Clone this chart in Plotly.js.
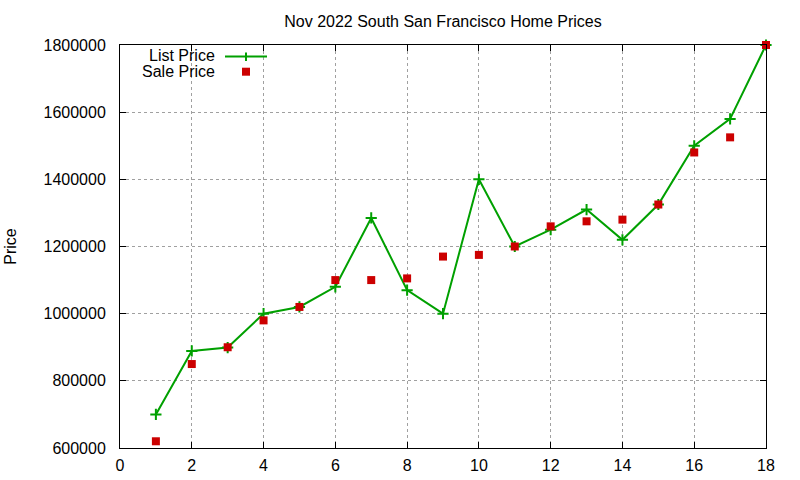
<!DOCTYPE html>
<html>
<head>
<meta charset="utf-8">
<script src="https://cdn.plot.ly/plotly-3.0.1.min.js"></script>
<style>
  html, body { margin: 0; padding: 0; background: #fff; }
  #chart { width: 800px; height: 480px; }
</style>
</head>
<body>
<div id="chart"></div>
<script>
// House index for the month (1..18)
const houseIndex = [1, 2, 3, 4, 5, 6, 7, 8, 9, 10, 11, 12, 13, 14, 15, 16, 17, 18];

// Prices
const listPrice = [700000, 889000, 899000, 1000000, 1020000, 1080000, 1285000, 1070000, 1000000,
                   1400000, 1200000, 1250000, 1310000, 1220000, 1325000, 1500000, 1580000, 1800000];
const salePrice = [620000, 850000, 900000, 980000, 1020000, 1100000, 1100000, 1105000, 1170000,
                   1175000, 1200000, 1260000, 1275000, 1280000, 1325000, 1480000, 1525000, 1800000];

const xTicks = [0, 2, 4, 6, 8, 10, 12, 14, 16, 18];
const yTicks = [600000, 800000, 1000000, 1200000, 1400000, 1600000, 1800000];

const GREEN = '#00a000';
const RED = '#cc0000';
const FONT = 'Liberation Sans, Arial, sans-serif';
const FS = 16;

// Plot area in pixels (used only to place the gnuplot-style key)
const plotL = 120, plotR = 766, plotT = 45, plotB = 448;
const px = (x) => (x - plotL) / (plotR - plotL);
const py = (y) => (plotB - y) / (plotB - plotT);

const listTrace = {
    x: houseIndex,
    y: listPrice,
    mode: 'lines+markers',
    type: 'scatter',
    name: 'List Price',
    line: { color: GREEN, width: 2 },
    marker: { symbol: 'cross-thin', size: 8, line: { color: GREEN, width: 2 } },
    cliponaxis: false
};

const saleTrace = {
    x: houseIndex,
    y: salePrice,
    mode: 'markers',
    type: 'scatter',
    name: 'Sale Price',
    marker: { symbol: 'square', size: 8, color: RED },
    cliponaxis: false
};

const axisCommon = {
    showline: true,
    linecolor: '#000',
    linewidth: 1,
    mirror: 'ticks',
    ticks: 'inside',
    ticklen: 6,
    tickcolor: '#000',
    tickwidth: 1,
    showgrid: true,
    gridcolor: '#a0a0a0',
    griddash: 'dot',
    gridwidth: 1,
    zeroline: false,
    tickfont: { family: FONT, size: FS, color: '#000' }
};

const layout = {
    width: 800,
    height: 480,
    paper_bgcolor: '#fff',
    plot_bgcolor: '#fff',
    margin: { l: plotL, r: 800 - plotR, t: plotT, b: 480 - plotB },
    showlegend: false,
    title: {
        text: 'Nov 2022 South San Francisco Home Prices',
        font: { family: FONT, size: FS, color: '#000' },
        xref: 'paper', x: 0.5, xanchor: 'center',
        yref: 'container', y: 1 - 21 / 480, yanchor: 'middle'
    },
    xaxis: Object.assign({}, axisCommon, {
        range: [0, 18],
        tickvals: xTicks,
        ticklabelstandoff: 3
    }),
    yaxis: Object.assign({}, axisCommon, {
        range: [600000, 1800000],
        tickvals: yTicks,
        tickformat: 'd',
        ticklabelstandoff: 10,
        title: { text: 'Price', font: { family: FONT, size: FS, color: '#000' }, standoff: 22 }
    }),
    // gnuplot-style key: text first, sample after
    annotations: [
        { text: 'List Price', xref: 'paper', yref: 'paper', x: px(217), y: py(55),
          xanchor: 'right', yanchor: 'middle', showarrow: false,
          font: { family: FONT, size: FS, color: '#000' } },
        { text: 'Sale Price', xref: 'paper', yref: 'paper', x: px(217), y: py(71),
          xanchor: 'right', yanchor: 'middle', showarrow: false,
          font: { family: FONT, size: FS, color: '#000' } }
    ],
    shapes: [
        { type: 'line', xref: 'paper', yref: 'paper', x0: px(225), x1: px(267), y0: py(56.5), y1: py(56.5),
          line: { color: GREEN, width: 2 } },
        { type: 'line', xref: 'paper', yref: 'paper', x0: px(246), x1: px(246), y0: py(52.5), y1: py(61),
          line: { color: GREEN, width: 2 } },
        { type: 'rect', xref: 'paper', yref: 'paper', x0: px(242), x1: px(250), y0: py(67.7), y1: py(75.7),
          fillcolor: RED, line: { width: 0 } }
    ]
};

Plotly.newPlot('chart', [listTrace, saleTrace], layout, { displayModeBar: false, staticPlot: true });
</script>
</body>
</html>
